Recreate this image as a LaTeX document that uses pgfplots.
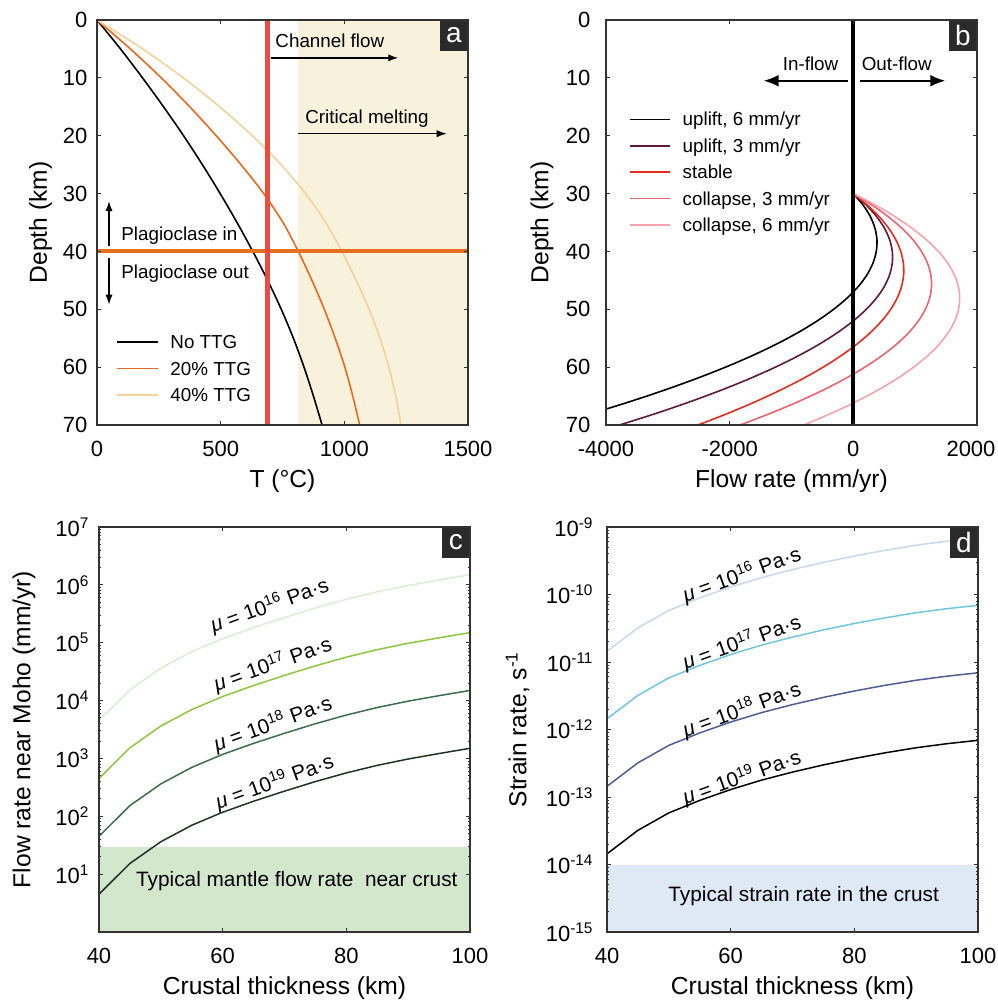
\documentclass[border=0pt]{standalone}
\usepackage{fontspec}
\setmainfont{Liberation Sans}
\usepackage{pgfplots}
\usepackage{pgfplotstable}
\pgfplotsset{compat=1.18}
\usetikzlibrary{arrows.meta}

\definecolor{axgray}{HTML}{333333}
\definecolor{tagbg}{HTML}{2A2A2A}
\definecolor{ttgorange}{HTML}{E66A22}
\definecolor{ttglight}{HTML}{F3D29B}
\definecolor{flowred}{HTML}{E94E3C}
\definecolor{plagorange}{HTML}{E5701F}
\definecolor{meltshade}{HTML}{F8F1DC}
\definecolor{upthree}{HTML}{5E1B38}
\definecolor{stablered}{HTML}{E32D1E}
\definecolor{colthree}{HTML}{EC6470}
\definecolor{colsix}{HTML}{F5A3AC}
\definecolor{greenshade}{HTML}{D3E7CD}
\definecolor{gsixteen}{HTML}{D6F0D0}
\definecolor{gseventeen}{HTML}{8DC63F}
\definecolor{geighteen}{HTML}{3D6E4C}
\definecolor{gnineteen}{HTML}{1E3325}
\definecolor{blueshade}{HTML}{DFE9F6}
\definecolor{bsixteen}{HTML}{C8D8EE}
\definecolor{bseventeen}{HTML}{70C6E0}
\definecolor{beighteen}{HTML}{4C5E93}

\newcommand{\annfont}{\fontsize{9.4}{11}\selectfont}
\newcommand{\muf}{\fontsize{10.4}{12}\selectfont}
\newcommand{\paneltag}[1]{\node[fill=tagbg, text=white, anchor=north east,
  minimum width=13.7pt, minimum height=15.2pt, inner sep=0pt,
  font=\fontsize{14}{14}\selectfont] at (axis description cs:1,1) {#1};}

% panel b: flow rate (mm/yr) against depth (km)
\pgfplotstableread{
z  u6    u3    st    c3    c6
30 0     0     0     0     0
32 159   210   228   304   359
34 276   378   419   566   676
36 350   504   572   786   951
38 382   588   688   965   1184
40 371   630   767   1102  1376
42 318   630   809   1198  1525
44 223   588   814   1252  1632
46 85    504   781   1265  1697
48 -95   378   712   1236  1720
50 -318  210   605   1165  1701
52 -583  0     460   1053  1640
54 -890  -252  279   899   1537
56 -1240 -546  61    703   1392
58 -1632 -882  -195  466   1205
60 -2067 -1260 -488  187   977
62 -2544 -1680 -818  -133  706
64 -3063 -2142 -1186 -495  393
66 -3625 -2646 -1590 -899  38
68 -4229 -3192 -2032 -1344 -359
70 -4876 -3780 -2511 -1830 -798
}\flowtable

% panel c: flow rate near Moho (mm/yr)
\pgfplotstableread{
H   m19   m18   m17    m16
40  4.50  45.0  450    4500
45  15.3  153   1530   15300
50  36.3  363   3630   36300
55  70.0  700   7000   70000
60  117.5 1175  11750  117500
65  182   1820  18200  182000
70  272   2720  27200  272000
75  398   3980  39800  398000
80  562   5620  56200  562000
85  759   7590  75900  759000
90  977   9770  97700  977000
95  1216  12160 121600 1216000
100 1496  14960 149600 1496000
}\moho

% panel d: strain rate (1/s)
\pgfplotstableread{
H   m19      m18      m17      m16
40  1.44e-14 1.44e-13 1.44e-12 1.44e-11
45  3.21e-14 3.21e-13 3.21e-12 3.21e-11
50  5.82e-14 5.82e-13 5.82e-12 5.82e-11
55  8.91e-14 8.91e-13 8.91e-12 8.91e-11
60  1.29e-13 1.29e-12 1.29e-11 1.29e-10
65  1.78e-13 1.78e-12 1.78e-11 1.78e-10
70  2.34e-13 2.34e-12 2.34e-11 2.34e-10
75  2.99e-13 2.99e-12 2.99e-11 2.99e-10
80  3.72e-13 3.72e-12 3.72e-11 3.72e-10
85  4.52e-13 4.52e-12 4.52e-11 4.52e-10
90  5.37e-13 5.37e-12 5.37e-11 5.37e-10
95  6.17e-13 6.17e-12 6.17e-11 6.17e-10
100 6.92e-13 6.92e-12 6.92e-11 6.92e-10
}\strain

\pgfplotsset{
  panel/.style={
    scale only axis, width=185.5pt, height=202.5pt,
    anchor=south west, axis on top,
    axis line style={axgray, line width=0.6pt},
    every tick/.style={axgray, line width=0.5pt},
    major tick length=2.2pt, minor tick length=1.2pt,
    tick label style={font=\fontsize{11}{13}\selectfont},
    /pgf/number format/assume math mode=true,
    /pgf/number format/1000 sep={},
    scaled ticks=false,
    xticklabel style={yshift=-4.3pt},
    label style={font=\fontsize{12.3}{14}\selectfont},
    xlabel style={at={([yshift=-28pt]axis description cs:0.5,0)}, anchor=center},
    ylabel style={anchor=center},
    every axis plot/.append style={line join=round},
    legend image code/.code={\draw[##1] (0pt,0pt) -- (20.3pt,0pt);},
    legend cell align=left,
    legend style={draw=none, fill=none, inner sep=0pt, row sep=2.7pt,
      column sep=5.8pt, anchor=north west,
      nodes={inner sep=0pt, text height=8.5pt, text depth=2pt, font=\annfont}},
  }
}

\begin{document}
\begin{tikzpicture}
\useasboundingbox (0,0) rectangle (498.5pt,500pt);

% ---- a ----
\begin{axis}[panel, at={(48.5pt,287.5pt)},
  xmin=0, xmax=1500, ymin=0, ymax=70, y dir=reverse,
  xtick={0,500,1000,1500}, ytick={0,10,20,30,40,50,60,70},
  yticklabel style={xshift=-1.3pt},
  xlabel={T (°C)}, ylabel={Depth (km)},
  ylabel style={at={([xshift=-28.3pt]axis description cs:0,0.5)}},
  legend style={at={(axis description cs:0.052,0.2316)}}]
\addplot[fill=meltshade, draw=none, forget plot] coordinates {(813,0) (1500,0) (1500,70) (813,70)} -- cycle;
\addplot[black, line width=0.8pt, smooth] coordinates {(0,0) (95,5) (184,10) (269,15) (350,20) (426,25) (498,30) (566,35) (630,40) (690,45) (745,50) (794,55) (837,60) (875,65) (910,70)};
\addlegendentry{No TTG}
\addplot[ttgorange, line width=0.8pt, smooth] coordinates {(0,0) (135,5) (260,10) (375,15) (482,20) (582,25) (674,30) (752,35) (814,40) (869,45) (919,50) (963,55) (1002,60) (1034,65) (1062,70)};
\addlegendentry{20\% TTG}
\addplot[ttglight, line width=0.8pt, smooth] coordinates {(0,0) (185,5) (349,10) (496,15) (628,20) (744,25) (843,30) (925,35) (990,40) (1048,45) (1100,50) (1144,55) (1180,60) (1208,65) (1229,70)};
\addlegendentry{40\% TTG}
\addplot[plagorange, line width=2pt, forget plot] coordinates {(0,40) (1500,40)};
\addplot[flowred, line width=2.2pt, forget plot] coordinates {(690,0) (690,70)};
\addplot[black, line width=0.65pt, -{Latex[length=5pt,width=3.6pt]}, forget plot] coordinates {(702,6.55) (1218,6.55)};
\addplot[black, line width=0.65pt, -{Latex[length=5pt,width=3.6pt]}, forget plot] coordinates {(811,19.65) (1414,19.65)};
\addplot[black, line width=0.65pt, -{Latex[length=5pt,width=3.6pt]}, forget plot] coordinates {(48.5,39.0) (48.5,31.3)};
\addplot[black, line width=0.65pt, -{Latex[length=5pt,width=3.6pt]}, forget plot] coordinates {(48.5,41.2) (48.5,49.2)};
\node[anchor=base west, inner sep=0pt, font=\annfont] at (axis cs:720,4.82) {Channel flow};
\node[anchor=base west, inner sep=0pt, font=\annfont] at (axis cs:841,17.97) {Critical melting};
\node[anchor=base west, inner sep=0pt, font=\annfont] at (axis cs:97,38.1) {Plagioclase in};
\node[anchor=base west, inner sep=0pt, font=\annfont] at (axis cs:97,44.75) {Plagioclase out};
\paneltag{a}
\end{axis}

% ---- b ----
\begin{axis}[panel, at={(303pt,287.5pt)},
  xmin=-4000, xmax=2000, ymin=0, ymax=70, y dir=reverse,
  xtick={-4000,-2000,0,2000},
  xticklabels={-4000,-2000,0,\hspace*{-6pt}2000},
  ytick={0,10,20,30,40,50,60,70},
  yticklabel style={xshift=-4.3pt},
  xlabel={Flow rate (mm/yr)}, ylabel={Depth (km)},
  ylabel style={at={([xshift=-32pt]axis description cs:0,0.5)}},
  legend style={at={(axis description cs:0.0606,0.7815)}}]
\addplot[black, line width=0.8pt, smooth] table[x=u6, y=z] {\flowtable};
\addlegendentry{uplift, 6 mm/yr}
\addplot[upthree, line width=0.8pt, smooth] table[x=u3, y=z] {\flowtable};
\addlegendentry{uplift, 3 mm/yr}
\addplot[stablered, line width=0.8pt, smooth] table[x=st, y=z] {\flowtable};
\addlegendentry{stable}
\addplot[colthree, line width=0.8pt, smooth] table[x=c3, y=z] {\flowtable};
\addlegendentry{collapse, 3 mm/yr}
\addplot[colsix, line width=0.8pt, smooth] table[x=c6, y=z] {\flowtable};
\addlegendentry{collapse, 6 mm/yr}
\addplot[black, line width=2pt, forget plot] coordinates {(0,0) (0,70)};
\addplot[black, line width=1pt, -{Latex[length=7.5pt,width=6pt]}, forget plot] coordinates {(-87,10.5) (-1450,10.5)};
\addplot[black, line width=1pt, -{Latex[length=7.5pt,width=6pt]}, forget plot] coordinates {(113,10.5) (1487,10.5)};
\node[anchor=base east, inner sep=0pt, font=\annfont] at (axis cs:-238,8.7) {In-flow};
\node[anchor=base west, inner sep=0pt, font=\annfont] at (axis cs:130,8.7) {Out-flow};
\paneltag{b}
\end{axis}

% ---- c ----
\begin{axis}[panel, at={(49.5pt,34pt)}, ymode=log,
  xmin=40, xmax=100, ymin=1, ymax=1e7,
  xtick={40,60,80,100},
  ytick={10,100,1000,10000,100000,1000000,10000000},
  yticklabels={10\textsuperscript{1},10\textsuperscript{2},10\textsuperscript{3},10\textsuperscript{4},10\textsuperscript{5},10\textsuperscript{6},10\textsuperscript{7}},
  yticklabel style={xshift=-1.2pt},
  xlabel={Crustal thickness (km)}, ylabel={Flow rate near Moho (mm/yr)},
  ylabel style={at={([xshift=-37.5pt]axis description cs:0,0.5)}}]
\addplot[fill=greenshade, draw=none] coordinates {(40,1) (100,1) (100,30) (40,30)} -- cycle;
\addplot[gsixteen, line width=0.75pt] table[x=H, y=m16] {\moho};
\addplot[gseventeen, line width=0.75pt] table[x=H, y=m17] {\moho};
\addplot[geighteen, line width=0.75pt] table[x=H, y=m18] {\moho};
\addplot[gnineteen, line width=0.75pt] table[x=H, y=m19] {\moho};
\node[rotate=20, inner sep=0pt, font=\muf] at (axis cs:67.6,4.4e5) {\textit{μ} = 10\textsuperscript{16} Pa·s};
\node[rotate=20, inner sep=0pt, font=\muf] at (axis cs:68.1,4.2e4) {\textit{μ} = 10\textsuperscript{17} Pa·s};
\node[rotate=20, inner sep=0pt, font=\muf] at (axis cs:68.1,4.0e3) {\textit{μ} = 10\textsuperscript{18} Pa·s};
\node[rotate=20, inner sep=0pt, font=\muf] at (axis cs:68.4,3.9e2) {\textit{μ} = 10\textsuperscript{19} Pa·s};
\node[anchor=base, inner sep=0pt, font=\muf] at (axis cs:72,6.2) {Typical mantle flow rate\ \ near crust};
\paneltag{c}
\end{axis}

% ---- d ----
\begin{axis}[panel, at={(303.5pt,34pt)}, ymode=log,
  xmin=40, xmax=100, ymin=1e-15, ymax=1e-9,
  xtick={40,60,80,100},
  ytick={1e-15,1e-14,1e-13,1e-12,1e-11,1e-10,1e-9},
  yticklabels={10\textsuperscript{-15},10\textsuperscript{-14},10\textsuperscript{-13},10\textsuperscript{-12},10\textsuperscript{-11},10\textsuperscript{-10},10\textsuperscript{-9}},
  yticklabel style={xshift=-3.2pt},
  xlabel={Crustal thickness (km)}, ylabel={Strain rate, s\textsuperscript{-1}},
  ylabel style={at={([xshift=-44.7pt]axis description cs:0,0.5)}}]
\addplot[fill=blueshade, draw=none] coordinates {(40,1e-15) (100,1e-15) (100,1e-14) (40,1e-14)} -- cycle;
\addplot[bsixteen, line width=0.75pt] table[x=H, y=m16] {\strain};
\addplot[bseventeen, line width=0.75pt] table[x=H, y=m17] {\strain};
\addplot[beighteen, line width=0.75pt] table[x=H, y=m18] {\strain};
\addplot[black, line width=0.75pt] table[x=H, y=m19] {\strain};
\node[rotate=20, inner sep=0pt, font=\muf] at (axis cs:61.8,1.95e-10) {\textit{μ} = 10\textsuperscript{16} Pa·s};
\node[rotate=20, inner sep=0pt, font=\muf] at (axis cs:61.8,1.95e-11) {\textit{μ} = 10\textsuperscript{17} Pa·s};
\node[rotate=20, inner sep=0pt, font=\muf] at (axis cs:61.8,1.95e-12) {\textit{μ} = 10\textsuperscript{18} Pa·s};
\node[rotate=20, inner sep=0pt, font=\muf] at (axis cs:61.8,1.95e-13) {\textit{μ} = 10\textsuperscript{19} Pa·s};
\node[anchor=base, inner sep=0pt, font=\muf] at (axis cs:71.8,2.86e-15) {Typical strain rate in the crust};
\paneltag{d}
\end{axis}
\end{tikzpicture}
\end{document}
